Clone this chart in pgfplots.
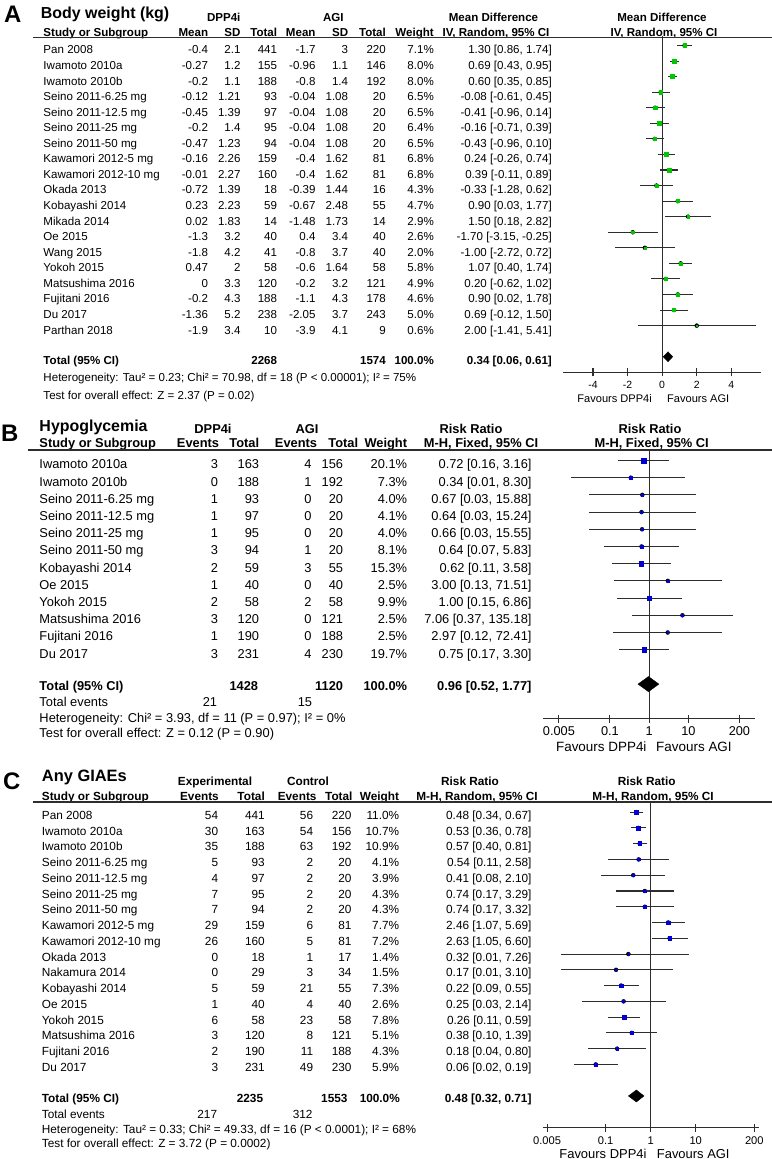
\documentclass[border=0pt]{standalone}
\usepackage{fontspec}
\setmainfont{Liberation Sans}
\usepackage{pgfplots}
\usepackage{pgfplotstable}
\pgfplotsset{compat=1.18}

\definecolor{mkgreen}{RGB}{0,200,0}
\definecolor{mkblue}{RGB}{0,0,210}
\definecolor{ink}{RGB}{45,45,45}

\newcommand\fA{\fontsize{11.6}{13}\selectfont}
\newcommand\fB{\fontsize{12.9}{15}\selectfont}
\newcommand\fC{\fontsize{11.85}{14}\selectfont}
\newcommand\fBig{\fontsize{24}{24}\selectfont\bfseries}

% forest plot data: row, estimate, lower, upper, weight (%)
\pgfplotstableread{
row est lo hi w
1 1.30 0.86 1.74 7.1
2 0.69 0.43 0.95 8.0
3 0.60 0.35 0.85 8.0
4 -0.08 -0.61 0.45 6.5
5 -0.41 -0.96 0.14 6.5
6 -0.16 -0.71 0.39 6.4
7 -0.43 -0.96 0.10 6.5
8 0.24 -0.26 0.74 6.8
9 0.39 -0.11 0.89 6.8
10 -0.33 -1.28 0.62 4.3
11 0.90 0.03 1.77 4.7
12 1.50 0.18 2.82 2.9
13 -1.70 -3.15 -0.25 2.6
14 -1.00 -2.72 0.72 2.0
15 1.07 0.40 1.74 5.8
16 0.20 -0.62 1.02 4.9
17 0.90 0.02 1.78 4.6
18 0.69 -0.12 1.50 5.0
19 2.00 -1.41 5.41 0.6
}\bodyweight

\pgfplotstableread{
row est lo hi w
1 0.72 0.16 3.16 20.1
2 0.34 0.01 8.30 7.3
3 0.67 0.03 15.88 4.0
4 0.64 0.03 15.24 4.1
5 0.66 0.03 15.55 4.0
6 0.64 0.07 5.83 8.1
7 0.62 0.11 3.58 15.3
8 3.00 0.13 71.51 2.5
9 1.00 0.15 6.86 9.9
10 7.06 0.37 135.18 2.5
11 2.97 0.12 72.41 2.5
12 0.75 0.17 3.30 19.7
}\hypo

\pgfplotstableread{
row est lo hi w
1 0.48 0.34 0.67 11.0
2 0.53 0.36 0.78 10.7
3 0.57 0.40 0.81 10.9
4 0.54 0.11 2.58 4.1
5 0.41 0.08 2.10 3.9
6 0.74 0.17 3.29 4.3
7 0.74 0.17 3.32 4.3
8 2.46 1.07 5.69 7.7
9 2.63 1.05 6.60 7.2
10 0.32 0.01 7.26 1.4
11 0.17 0.01 3.10 1.5
12 0.22 0.09 0.55 7.3
13 0.25 0.03 2.14 2.6
14 0.26 0.11 0.59 7.8
15 0.38 0.10 1.39 5.1
16 0.18 0.04 0.80 4.3
17 0.06 0.02 0.19 5.9
}\giae

\pgfplotsset{
  forest/.style={
    scale only axis, anchor=south west, clip=false,
    axis x line*=bottom, axis y line=none,
    tick align=center, major tick length=8bp,
    axis line style={ink, line width=1.1bp},
    major tick style={ink, line width=1.1bp},
    xticklabel style={inner sep=0pt, anchor=base},
  },
  ci/.style={only marks, mark=none,
    error bars/.cd, x dir=both, x explicit, error mark=none,
    error bar style={ink, line width=1.1bp}},
}
\tikzset{
  L/.style={anchor=base west, inner sep=0pt},
  R/.style={anchor=base east, inner sep=0pt},
  M/.style={anchor=base, inner sep=0pt},
}

\begin{document}
\begin{tikzpicture}
\path[use as bounding box] (0bp,0bp) rectangle (772bp,-1159bp);

%================ A: body weight
\begin{axis}[forest, at={(563.3bp,-372.3bp)}, width=197.7bp, height=336.1bp,
  xmin=-5.72, xmax=5.72, ymin=-22, ymax=-0.4,
  xtick={-4,-2,0,2,4}, xticklabels={-4,-2,0,2,4},
  xticklabel style={font=\fontsize{10.5}{12}\selectfont, yshift=-11.8bp}]
\draw[ink, line width=1.1bp] (axis cs:0,-0.4) -- (axis cs:0,-22);
\addplot[ci] table[x=est, y expr=-\thisrow{row},
  x error plus expr=\thisrow{hi}-\thisrow{est},
  x error minus expr=\thisrow{est}-\thisrow{lo}] {\bodyweight};
\addplot[scatter, only marks, mark=square*,
  scatter/use mapped color={draw=mkgreen, fill=mkgreen},
  visualization depends on={0.7*sqrt(\thisrow{w}) \as \msz},
  scatter/@pre marker code/.append style={/tikz/mark size=\msz}]
  table[x=est, y expr=-\thisrow{row}] {\bodyweight};
\addplot[fill=black, draw=black] coordinates {(0.06,-21) (0.34,-20.68) (0.61,-21) (0.34,-21.32)} -- cycle;
\end{axis}

%================ B: hypoglycemia
\begin{axis}[forest, at={(543.3bp,-718.5bp)}, width=211.7bp, height=268bp,
  xmode=log, xmin=0.002, xmax=500, ymin=-16, ymax=-0.42,
  xtick={0.005,0.1,1,10,200}, xticklabels={0.005,0.1,1,10,200},
  xticklabel style={font=\fontsize{12.8}{14}\selectfont, yshift=-13bp}]
\draw[ink, line width=1.1bp] (axis cs:1,-0.42) -- (axis cs:1,-16);
\addplot[ci] table[x=est, y expr=-\thisrow{row},
  x error plus expr=\thisrow{hi}-\thisrow{est},
  x error minus expr=\thisrow{est}-\thisrow{lo}] {\hypo};
\addplot[scatter, only marks, mark=square*,
  scatter/use mapped color={draw=mkblue, fill=mkblue},
  visualization depends on={0.55*sqrt(\thisrow{w}) \as \msz},
  scatter/@pre marker code/.append style={/tikz/mark size=\msz}]
  table[x=est, y expr=-\thisrow{row}] {\hypo};
\addplot[fill=black, draw=black] coordinates {(0.52,-14) (0.96,-13.56) (1.77,-14) (0.96,-14.44)} -- cycle;
\end{axis}

%================ C: any GIAEs
\begin{axis}[forest, at={(542.7bp,-1127.5bp)}, width=216bp, height=325bp,
  xmode=log, xmin=0.004, xmax=250, ymin=-21, ymax=-0.39,
  xtick={0.005,0.1,1,10,200}, xticklabels={0.005,0.1,1,10,200},
  xticklabel style={font=\fontsize{11.2}{13}\selectfont, yshift=-13.3bp}]
\draw[ink, line width=1.1bp] (axis cs:1,-0.39) -- (axis cs:1,-21);
\addplot[ci] table[x=est, y expr=-\thisrow{row},
  x error plus expr=\thisrow{hi}-\thisrow{est},
  x error minus expr=\thisrow{est}-\thisrow{lo}] {\giae};
\addplot[scatter, only marks, mark=square*,
  scatter/use mapped color={draw=mkblue, fill=mkblue},
  visualization depends on={0.6*sqrt(\thisrow{w}) \as \msz},
  scatter/@pre marker code/.append style={/tikz/mark size=\msz}]
  table[x=est, y expr=-\thisrow{row}] {\giae};
\addplot[fill=black, draw=black] coordinates {(0.32,-19) (0.48,-18.62) (0.71,-19) (0.48,-19.38)} -- cycle;
\end{axis}

%================ table text
\begin{scope}[x=1bp, y=-1bp]
% ---- A
\node[L, font=\fBig] at (4,22) {A};
\node[L, font=\fontsize{16}{18}\selectfont\bfseries] at (40.7,18.5) {Body weight (kg)};
\begin{scope}[every node/.append style={font=\fA\bfseries}]
\node[M] at (223.7,21) {DPP4i};
\node[M] at (333.3,21) {AGI};
\node[M] at (493.5,21) {Mean Difference};
\node[M] at (662,21) {Mean Difference};
\node[L] at (43.3,36) {Study or Subgroup};
\node[R] at (208.3,36) {Mean};
\node[R] at (240.7,36) {SD};
\node[R] at (277.3,36) {Total};
\node[R] at (315.7,36) {Mean};
\node[R] at (348.3,36) {SD};
\node[R] at (386,36) {Total};
\node[R] at (434,36) {Weight};
\node[M] at (496,36) {IV, Random, 95\% CI};
\node[M] at (664,36) {IV, Random, 95\% CI};
\node[L] at (43.3,364.2) {Total (95\% CI)};
\node[R] at (277.3,364.2) {2268};
\node[R] at (386,364.2) {1574};
\node[R] at (434,364.2) {100.0\%};
\node[R] at (552,364.2) {0.34 [0.06, 0.61]};
\end{scope}
\draw[ink, line width=1.2bp] (33,37.6) -- (772,37.6);
\begin{scope}[every node/.append style={font=\fA}]
\foreach \xr/\xn/\xa/\xb/\xc/\xd/\xe/\xf/\xw/\xci in {
1/Pan 2008/-0.4/2.1/441/-1.7/3/220/7.1\%/{1.30 [0.86, 1.74]},
2/Iwamoto 2010a/-0.27/1.2/155/-0.96/1.1/146/8.0\%/{0.69 [0.43, 0.95]},
3/Iwamoto 2010b/-0.2/1.1/188/-0.8/1.4/192/8.0\%/{0.60 [0.35, 0.85]},
4/Seino 2011-6.25 mg/-0.12/1.21/93/-0.04/1.08/20/6.5\%/{-0.08 [-0.61, 0.45]},
5/Seino 2011-12.5 mg/-0.45/1.39/97/-0.04/1.08/20/6.5\%/{-0.41 [-0.96, 0.14]},
6/Seino 2011-25 mg/-0.2/1.4/95/-0.04/1.08/20/6.4\%/{-0.16 [-0.71, 0.39]},
7/Seino 2011-50 mg/-0.47/1.23/94/-0.04/1.08/20/6.5\%/{-0.43 [-0.96, 0.10]},
8/Kawamori 2012-5 mg/-0.16/2.26/159/-0.4/1.62/81/6.8\%/{0.24 [-0.26, 0.74]},
9/Kawamori 2012-10 mg/-0.01/2.27/160/-0.4/1.62/81/6.8\%/{0.39 [-0.11, 0.89]},
10/Okada 2013/-0.72/1.39/18/-0.39/1.44/16/4.3\%/{-0.33 [-1.28, 0.62]},
11/Kobayashi 2014/0.23/2.23/59/-0.67/2.48/55/4.7\%/{0.90 [0.03, 1.77]},
12/Mikada 2014/0.02/1.83/14/-1.48/1.73/14/2.9\%/{1.50 [0.18, 2.82]},
13/Oe 2015/-1.3/3.2/40/0.4/3.4/40/2.6\%/{-1.70 [-3.15, -0.25]},
14/Wang 2015/-1.8/4.2/41/-0.8/3.7/40/2.0\%/{-1.00 [-2.72, 0.72]},
15/Yokoh 2015/0.47/2/58/-0.6/1.64/58/5.8\%/{1.07 [0.40, 1.74]},
16/Matsushima 2016/0/3.3/120/-0.2/3.2/121/4.9\%/{0.20 [-0.62, 1.02]},
17/Fujitani 2016/-0.2/4.3/188/-1.1/4.3/178/4.6\%/{0.90 [0.02, 1.78]},
18/Du 2017/-1.36/5.2/238/-2.05/3.7/243/5.0\%/{0.69 [-0.12, 1.50]},
19/Parthan 2018/-1.9/3.4/10/-3.9/4.1/9/0.6\%/{2.00 [-1.41, 5.41]}}{
  \pgfmathsetmacro\yy{46.04+(\xr-1)*15.56+7.9}
  \node[L] at (43.3,\yy) {\xn};
  \node[R] at (208.3,\yy) {\xa};
  \node[R] at (240.7,\yy) {\xb};
  \node[R] at (277.3,\yy) {\xc};
  \node[R] at (315.7,\yy) {\xd};
  \node[R] at (348.3,\yy) {\xe};
  \node[R] at (386,\yy) {\xf};
  \node[R] at (434,\yy) {\xw};
  \node[R] at (552,\yy) {\xci};
}
\node[L] at (43.3,381.6) {Heterogeneity: Tau² = 0.23; Chi² = 70.98, df = 18 (P < 0.00001); I² = 75\%};
\node[L] at (43.3,399) {Test for overall effect: Z = 2.37 (P = 0.02)};
\end{scope}
\node[R, font=\fontsize{11.1}{13}\selectfont] at (652,402.3) {Favours DPP4i};
\node[L, font=\fontsize{11.1}{13}\selectfont] at (667,402.3) {Favours AGI};

% ---- B
\node[L, font=\fBig] at (1,441.7) {B};
\node[L, font=\fontsize{16}{18}\selectfont\bfseries] at (39.3,431.7) {Hypoglycemia};
\begin{scope}[every node/.append style={font=\fB\bfseries}]
\node[M] at (213,433.3) {DPP4i};
\node[M] at (307,433.3) {AGI};
\node[M] at (471,433.3) {Risk Ratio};
\node[M] at (650,433.3) {Risk Ratio};
\node[L] at (39.3,447.7) {Study or Subgroup};
\node[R] at (219.3,447.7) {Events};
\node[R] at (259.3,447.7) {Total};
\node[R] at (317.3,447.7) {Events};
\node[R] at (358.3,447.7) {Total};
\node[R] at (407.3,447.7) {Weight};
\node[M] at (481,447.7) {M-H, Fixed, 95\% CI};
\node[M] at (651.7,447.7) {M-H, Fixed, 95\% CI};
\node[L] at (39.3,690.5) {Total (95\% CI)};
\node[R] at (258.3,690.5) {1428};
\node[R] at (343.3,690.5) {1120};
\node[R] at (407.3,690.5) {100.0\%};
\node[R] at (531.7,690.5) {0.96 [0.52, 1.77]};
\end{scope}
\draw[ink, line width=1.2bp] (28.3,450) -- (772,450);
\begin{scope}[every node/.append style={font=\fB}]
\foreach \xr/\xn/\xa/\xb/\xc/\xd/\xw/\xci in {
1/Iwamoto 2010a/3/163/4/156/20.1\%/{0.72 [0.16, 3.16]},
2/Iwamoto 2010b/0/188/1/192/7.3\%/{0.34 [0.01, 8.30]},
3/Seino 2011-6.25 mg/1/93/0/20/4.0\%/{0.67 [0.03, 15.88]},
4/Seino 2011-12.5 mg/1/97/0/20/4.1\%/{0.64 [0.03, 15.24]},
5/Seino 2011-25 mg/1/95/0/20/4.0\%/{0.66 [0.03, 15.55]},
6/Seino 2011-50 mg/3/94/1/20/8.1\%/{0.64 [0.07, 5.83]},
7/Kobayashi 2014/2/59/3/55/15.3\%/{0.62 [0.11, 3.58]},
8/Oe 2015/1/40/0/40/2.5\%/{3.00 [0.13, 71.51]},
9/Yokoh 2015/2/58/2/58/9.9\%/{1.00 [0.15, 6.86]},
10/Matsushima 2016/3/120/0/121/2.5\%/{7.06 [0.37, 135.18]},
11/Fujitani 2016/1/190/0/188/2.5\%/{2.97 [0.12, 72.41]},
12/Du 2017/3/231/4/230/19.7\%/{0.75 [0.17, 3.30]}}{
  \pgfmathsetmacro\yy{460.7+(\xr-1)*17.2+8.1}
  \node[L] at (39.3,\yy) {\xn};
  \node[R] at (218.3,\yy) {\xa};
  \node[R] at (259.3,\yy) {\xb};
  \node[R] at (311.7,\yy) {\xc};
  \node[R] at (343.3,\yy) {\xd};
  \node[R] at (407.3,\yy) {\xw};
  \node[R] at (531.7,\yy) {\xci};
}
\node[L] at (39.3,706.5) {Total events};
\node[R] at (217.3,706.5) {21};
\node[R] at (312.3,706.5) {15};
\node[L] at (39.3,722.3) {Heterogeneity: Chi² = 3.93, df = 11 (P = 0.97); I² = 0\%};
\node[L] at (39.3,737.6) {Test for overall effect: Z = 0.12 (P = 0.90)};
\end{scope}
\node[R, font=\fontsize{13.5}{15}\selectfont] at (646.7,751.5) {Favours DPP4i};
\node[L, font=\fontsize{13.5}{15}\selectfont] at (656,751.5) {Favours AGI};

% ---- C
\node[L, font=\fBig] at (3,789) {C};
\node[L, font=\fontsize{16.5}{18}\selectfont\bfseries] at (41.7,781.5) {Any GIAEs};
\begin{scope}[every node/.append style={font=\fC\bfseries}]
\node[M] at (215,785.5) {Experimental};
\node[M] at (308,785.5) {Control};
\node[M] at (470,785.5) {Risk Ratio};
\node[M] at (646.7,785.5) {Risk Ratio};
\node[L] at (41.7,800) {Study or Subgroup};
\node[R] at (219,800) {Events};
\node[R] at (265,800) {Total};
\node[R] at (316.7,800) {Events};
\node[R] at (352.7,800) {Total};
\node[R] at (399.3,800) {Weight};
\node[M] at (477,800) {M-H, Random, 95\% CI};
\node[M] at (653,800) {M-H, Random, 95\% CI};
\node[L] at (41.7,1102.5) {Total (95\% CI)};
\node[R] at (263.3,1102.5) {2235};
\node[R] at (347.7,1102.5) {1553};
\node[R] at (400,1102.5) {100.0\%};
\node[R] at (531.7,1102.5) {0.48 [0.32, 0.71]};
\end{scope}
\draw[ink, line width=1.2bp] (33.3,802) -- (772,802);
\begin{scope}[every node/.append style={font=\fC}]
\foreach \xr/\xn/\xa/\xb/\xc/\xd/\xw/\xci in {
1/Pan 2008/54/441/56/220/11.0\%/{0.48 [0.34, 0.67]},
2/Iwamoto 2010a/30/163/54/156/10.7\%/{0.53 [0.36, 0.78]},
3/Iwamoto 2010b/35/188/63/192/10.9\%/{0.57 [0.40, 0.81]},
4/Seino 2011-6.25 mg/5/93/2/20/4.1\%/{0.54 [0.11, 2.58]},
5/Seino 2011-12.5 mg/4/97/2/20/3.9\%/{0.41 [0.08, 2.10]},
6/Seino 2011-25 mg/7/95/2/20/4.3\%/{0.74 [0.17, 3.29]},
7/Seino 2011-50 mg/7/94/2/20/4.3\%/{0.74 [0.17, 3.32]},
8/Kawamori 2012-5 mg/29/159/6/81/7.7\%/{2.46 [1.07, 5.69]},
9/Kawamori 2012-10 mg/26/160/5/81/7.2\%/{2.63 [1.05, 6.60]},
10/Okada 2013/0/18/1/17/1.4\%/{0.32 [0.01, 7.26]},
11/Nakamura 2014/0/29/3/34/1.5\%/{0.17 [0.01, 3.10]},
12/Kobayashi 2014/5/59/21/55/7.3\%/{0.22 [0.09, 0.55]},
13/Oe 2015/1/40/4/40/2.6\%/{0.25 [0.03, 2.14]},
14/Yokoh 2015/6/58/23/58/7.8\%/{0.26 [0.11, 0.59]},
15/Matsushima 2016/3/120/8/121/5.1\%/{0.38 [0.10, 1.39]},
16/Fujitani 2016/2/190/11/188/4.3\%/{0.18 [0.04, 0.80]},
17/Du 2017/3/231/49/230/5.9\%/{0.06 [0.02, 0.19]}}{
  \pgfmathsetmacro\yy{812.3+(\xr-1)*15.76+7}
  \node[L] at (41.7,\yy) {\xn};
  \node[R] at (218.3,\yy) {\xa};
  \node[R] at (265,\yy) {\xb};
  \node[R] at (313.3,\yy) {\xc};
  \node[R] at (351.7,\yy) {\xd};
  \node[R] at (399.3,\yy) {\xw};
  \node[R] at (531.7,\yy) {\xci};
}
\node[L] at (41.7,1118.5) {Total events};
\node[R] at (217.3,1118.5) {217};
\node[R] at (312.7,1118.5) {312};
\node[L] at (41.7,1133) {Heterogeneity: Tau² = 0.33; Chi² = 49.33, df = 16 (P < 0.0001); I² = 68\%};
\node[L] at (41.7,1147.3) {Test for overall effect: Z = 3.72 (P = 0.0002)};
\end{scope}
\node[R, font=\fontsize{13}{15}\selectfont] at (646.7,1158.3) {Favours DPP4i};
\node[L, font=\fontsize{13}{15}\selectfont] at (656.7,1158.3) {Favours AGI};
\end{scope}
\end{tikzpicture}
\end{document}
